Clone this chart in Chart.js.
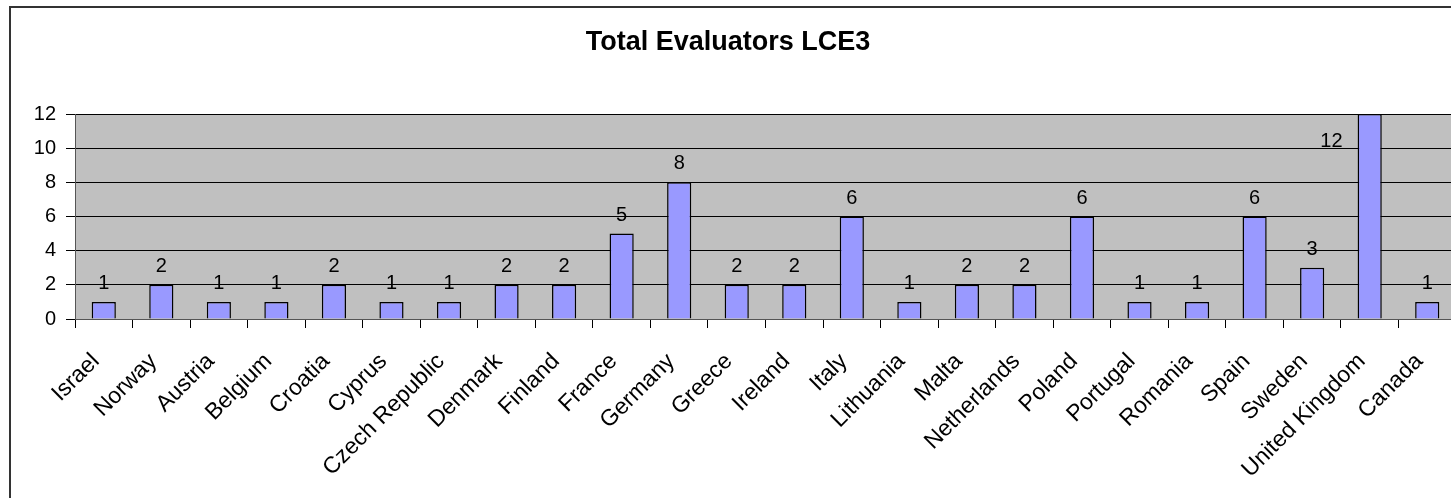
<!DOCTYPE html>
<html>
<head>
<meta charset="utf-8">
<script src="https://cdn.jsdelivr.net/npm/chart.js@4"></script>
<style>
    body { margin: 0; background: #fff; overflow: hidden; }
    #marco { position: absolute; left: 9px; top: 6px; width: 1500px; height: 560px; border: 2px solid #333; }
    #caja { position: absolute; left: 0; top: 0; width: 1456px; height: 498px; }
</style>
</head>
<body>
<div id="marco"></div>
<div id="caja"><canvas id="myChart" width="1456" height="498"></canvas></div>
<script>
// datos
const paises = ['Israel', 'Norway', 'Austria', 'Belgium', 'Croatia', 'Cyprus', 'Czech Republic', 'Denmark',
    'Finland', 'France', 'Germany', 'Greece', 'Ireland', 'Italy', 'Lithuania', 'Malta', 'Netherlands',
    'Poland', 'Portugal', 'Romania', 'Spain', 'Sweden', 'United Kingdom', 'Canada'];
const evaluadores = [1, 2, 1, 1, 2, 1, 1, 2, 2, 5, 8, 2, 2, 6, 1, 2, 2, 6, 1, 1, 6, 3, 12, 1];
const ticksY = [0, 2, 4, 6, 8, 10, 12];

const fuente = 'Arial, "Liberation Sans", sans-serif';

//Fondo gris del area de la grafica
const fondoGris = {
    id: 'fondoGris',
    beforeDraw(chart) {
        const a = chart.chartArea;
        const ctx = chart.ctx;
        ctx.save();
        ctx.fillStyle = '#C0C0C0';
        ctx.fillRect(a.left, a.top, a.right - a.left, a.bottom - a.top);
        ctx.restore();
    }
};

//Etiquetas con el valor encima de cada barra
const etiquetas = {
    id: 'etiquetas',
    afterDatasetsDraw(chart) {
        const ctx = chart.ctx;
        const meta = chart.getDatasetMeta(0);
        ctx.save();
        ctx.font = '20px ' + fuente;
        ctx.fillStyle = '#000';
        ctx.textBaseline = 'alphabetic';
        meta.data.forEach((bar, i) => {
            const txt = String(evaluadores[i]);
            let y = bar.y - 13;
            if (y - 15 < chart.chartArea.top) {
                // no cabe encima: al lado izquierdo
                ctx.textAlign = 'right';
                ctx.fillText(txt, bar.x - bar.width / 2 - 15, bar.y + 33);
            } else {
                ctx.textAlign = 'center';
                ctx.fillText(txt, bar.x, y);
            }
        });
        ctx.restore();
    }
};

const data = {
    labels: paises,
    datasets: [{
        label: 'Total Evaluators LCE3',
        data: evaluadores,
        backgroundColor: '#9999FF',
        borderColor: '#000',
        borderWidth: 1.5,
        barPercentage: 0.42,
        categoryPercentage: 1
    }]
};

const config = {
    type: 'bar',
    data: data,
    options: {
        responsive: false,
        animation: false,
        layout: { padding: { left: 0, right: 0, top: 0, bottom: 0 } },
        plugins: {
            legend: { display: false },
            tooltip: { enabled: false },
            title: {
                display: true,
                text: 'Total Evaluators LCE3',
                color: '#000',
                font: { family: fuente, size: 27, weight: 'bold', lineHeight: 1.2 },
                padding: { top: 26, bottom: 55.6 }
            }
        },
        scales: {
            x: {
                offset: true,
                grid: { offset: true, drawOnChartArea: false, color: '#000', tickLength: 9 },
                border: { color: '#555', width: 1 },
                ticks: {
                    color: '#000',
                    font: { family: fuente, size: 23 },
                    minRotation: 45,
                    maxRotation: 45,
                    autoSkip: false,
                    padding: 20,
                    labelOffset: -8
                },
                afterFit(scale) {
                    scale.height = 179;
                    scale.paddingLeft = 0;
                    scale.paddingRight = 0;
                }
            },
            y: {
                min: 0,
                max: 12,
                afterBuildTicks(scale) { scale.ticks = ticksY.map(v => ({ value: v })); },
                grid: { color: '#000', tickLength: 9, lineWidth: 1 },
                border: { color: '#555', width: 1 },
                ticks: {
                    color: '#000',
                    font: { family: fuente, size: 20 },
                    padding: 10
                },
                afterFit(scale) {
                    scale.width = 75;
                    scale.paddingTop = 0;
                    scale.paddingBottom = 0;
                }
            }
        }
    },
    plugins: [fondoGris, etiquetas]
};

const myChart = new Chart(document.getElementById('myChart'), config);
</script>
</body>
</html>
